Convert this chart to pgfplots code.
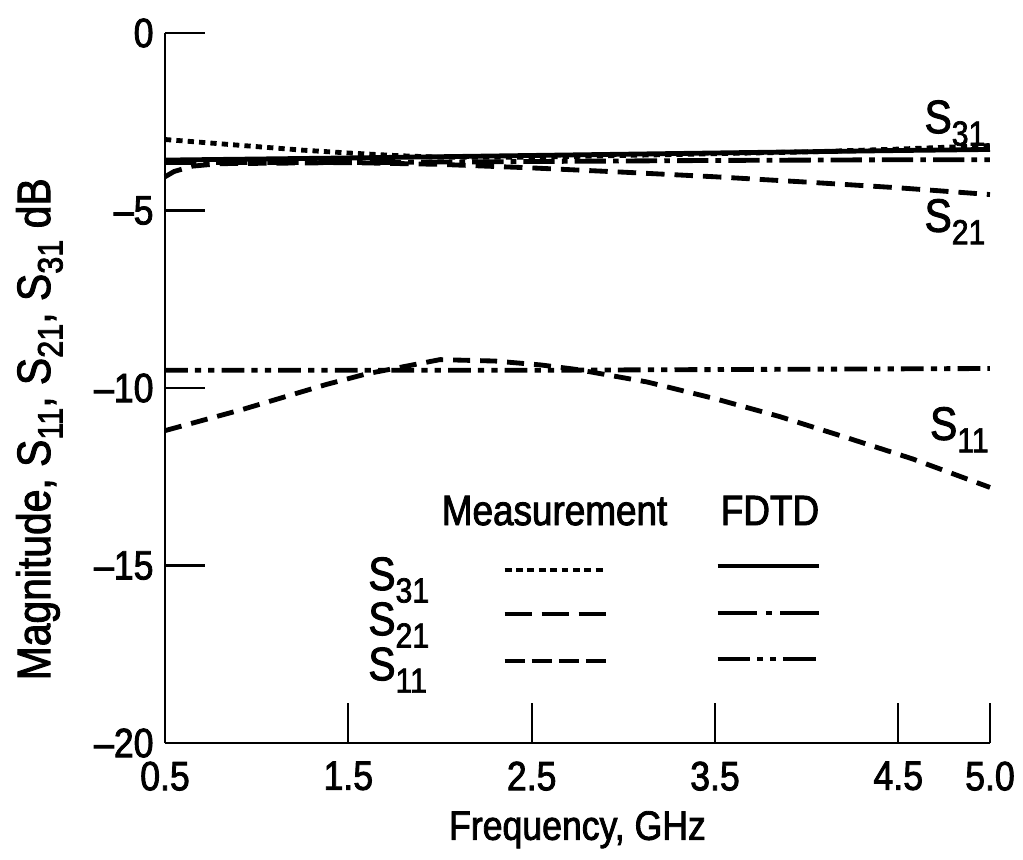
\documentclass[border=0pt]{standalone}
\usepackage{fontspec}
\setmainfont{Liberation Sans}[FakeStretch=0.87, UprightFeatures={FakeBold=2}]
\usepackage{pgfplots}
\pgfplotsset{compat=1.18}
\newcommand{\sub}[1]{\raisebox{-0.5ex}{\fontsize{12.2pt}{13pt}\selectfont #1}}
\newcommand{\ysub}[1]{\raisebox{-0.5ex}{\fontsize{12.4pt}{13pt}\selectfont #1}}
\newcommand{\lab}{\fontsize{16.5pt}{18pt}\selectfont}
\begin{document}
\begin{tikzpicture}
\begin{axis}[
  scale only axis, width=290pt, height=249.6pt,
  xmin=0.5, xmax=5.0, ymin=-20, ymax=0,
  axis x line=bottom, axis y line=left,
  axis line style={-, line width=0.8pt},
  xtick={0.5,1.5,2.5,3.5,4.5,5.0},
  xticklabels={0.5,1.5,2.5,3.5,4.5,5.0},
  ytick={-20,-15,-10,-5,0},
  yticklabels={--20,--15,--10,--5,0},
  tick align=inside, major tick length=14pt,
  tick style={line width=0.8pt, black},
  ticklabel style={font=\fontsize{14.4pt}{16pt}\selectfont},
  xticklabel style={yshift=-3pt},
  yticklabel style={xshift=-0.5pt},
  xlabel={Frequency, GHz},
  ylabel={Magnitude, S\ysub{11}, S\ysub{21}, S\ysub{31} dB},
  xlabel style={font=\fontsize{14.4pt}{16pt}\selectfont, at={(axis description cs:0.5,0)}, anchor=base, yshift=-34pt},
  ylabel style={font=\fontsize{16.5pt}{19pt}\selectfont, at={(axis description cs:0,0.5)}, anchor=base, yshift=40.4pt, xshift=-14.5pt},
  clip=false,
]
% S31 measurement (dotted)
\addplot[black, line width=1.7pt, dash pattern=on 2.2pt off 1.8pt] coordinates {
 (0.5,-3.0) (0.75,-3.1) (1.0,-3.2) (1.25,-3.3) (1.5,-3.38) (1.75,-3.45) (2.0,-3.5)
 (2.5,-3.5) (3.0,-3.45) (3.5,-3.4) (4.0,-3.35) (4.5,-3.27) (5.0,-3.17)};
% S31 FDTD (solid)
\addplot[black, line width=1.7pt] coordinates {
 (0.5,-3.58) (1.5,-3.52) (2.5,-3.45) (3.5,-3.38) (4.5,-3.31) (5.0,-3.28)};
% S21 FDTD (dash-dot)
\addplot[black, line width=1.7pt, dash pattern=on 11pt off 2.5pt on 2pt off 2.5pt] coordinates {
 (0.5,-3.65) (1.5,-3.65) (2.5,-3.62) (3.5,-3.59) (4.5,-3.57) (5.0,-3.57)};
% S21 measurement (long dashes)
\addplot[black, line width=1.7pt, dash pattern=on 6.5pt off 3.5pt] coordinates {
 (0.5,-4.05) (0.55,-3.9) (0.65,-3.75) (0.8,-3.68) (1.5,-3.65) (2.0,-3.7) (2.5,-3.8)
 (3.0,-3.92) (3.5,-4.05) (4.0,-4.2) (4.5,-4.36) (5.0,-4.55)};
% S11 FDTD (dash-dot-dot)
\addplot[black, line width=1.7pt, dash pattern=on 8pt off 2.5pt on 2.2pt off 2.5pt on 2.2pt off 2.5pt] coordinates {
 (0.5,-9.5) (2.5,-9.5) (5.0,-9.45)};
% S11 measurement (dashes)
\addplot[black, line width=1.7pt, dash pattern=on 6pt off 3.5pt] coordinates {
 (0.5,-11.2) (0.925,-10.6) (1.38,-9.9) (1.6,-9.6) (2.0,-9.2) (2.3,-9.24) (2.55,-9.35)
 (2.75,-9.48) (3.13,-9.83) (3.5,-10.3) (3.85,-10.8) (4.22,-11.4) (4.58,-12.0) (5.0,-12.8)};
% legend samples
\addplot[black, line width=1.2pt, dash pattern=on 2.4pt off 1.6pt, forget plot] coordinates {(2.353,-15.13) (2.909,-15.13)};
\addplot[black, line width=1.2pt, dash pattern=on 9.5pt off 3.5pt, forget plot] coordinates {(2.353,-16.37) (2.909,-16.37)};
\addplot[black, line width=1.2pt, dash pattern=on 7pt off 2.5pt, forget plot] coordinates {(2.353,-17.69) (2.909,-17.69)};
\addplot[black, line width=1.2pt, forget plot] coordinates {(3.514,-15.01) (4.07,-15.01)};
\addplot[black, line width=1.2pt, dash pattern=on 14pt off 3pt on 2pt off 3pt, forget plot] coordinates {(3.514,-16.34) (4.07,-16.34)};
\addplot[black, line width=1.2pt, dash pattern=on 11.5pt off 2.5pt on 2pt off 2.5pt on 2pt off 2.5pt, forget plot] coordinates {(3.514,-17.63) (4.07,-17.63)};
% text
\node[anchor=base, font=\fontsize{14.9pt}{16pt}\selectfont] at (axis cs:2.625,-13.86) {Measurement};
\node[anchor=base, font=\fontsize{14.9pt}{16pt}\selectfont] at (axis cs:3.80,-13.86) {FDTD};
\node[anchor=base west, inner sep=0pt] at (axis cs:1.606,-15.69) {\lab S\sub{31}};
\node[anchor=base west, inner sep=0pt] at (axis cs:1.606,-16.96) {\lab S\sub{21}};
\node[anchor=base west, inner sep=0pt] at (axis cs:1.606,-18.23) {\lab S\sub{11}};
\node[anchor=base west, inner sep=0pt] at (axis cs:4.64,-2.82) {\lab S\sub{31}};
\node[anchor=base west, inner sep=0pt] at (axis cs:4.64,-5.6) {\lab S\sub{21}};
\node[anchor=base west, inner sep=0pt] at (axis cs:4.67,-11.46) {\lab S\sub{11}};
\end{axis}
\pgfresetboundingbox
\useasboundingbox (-58pt,-40.8pt) rectangle (301.6pt,261.2pt);
\end{tikzpicture}
\end{document}
